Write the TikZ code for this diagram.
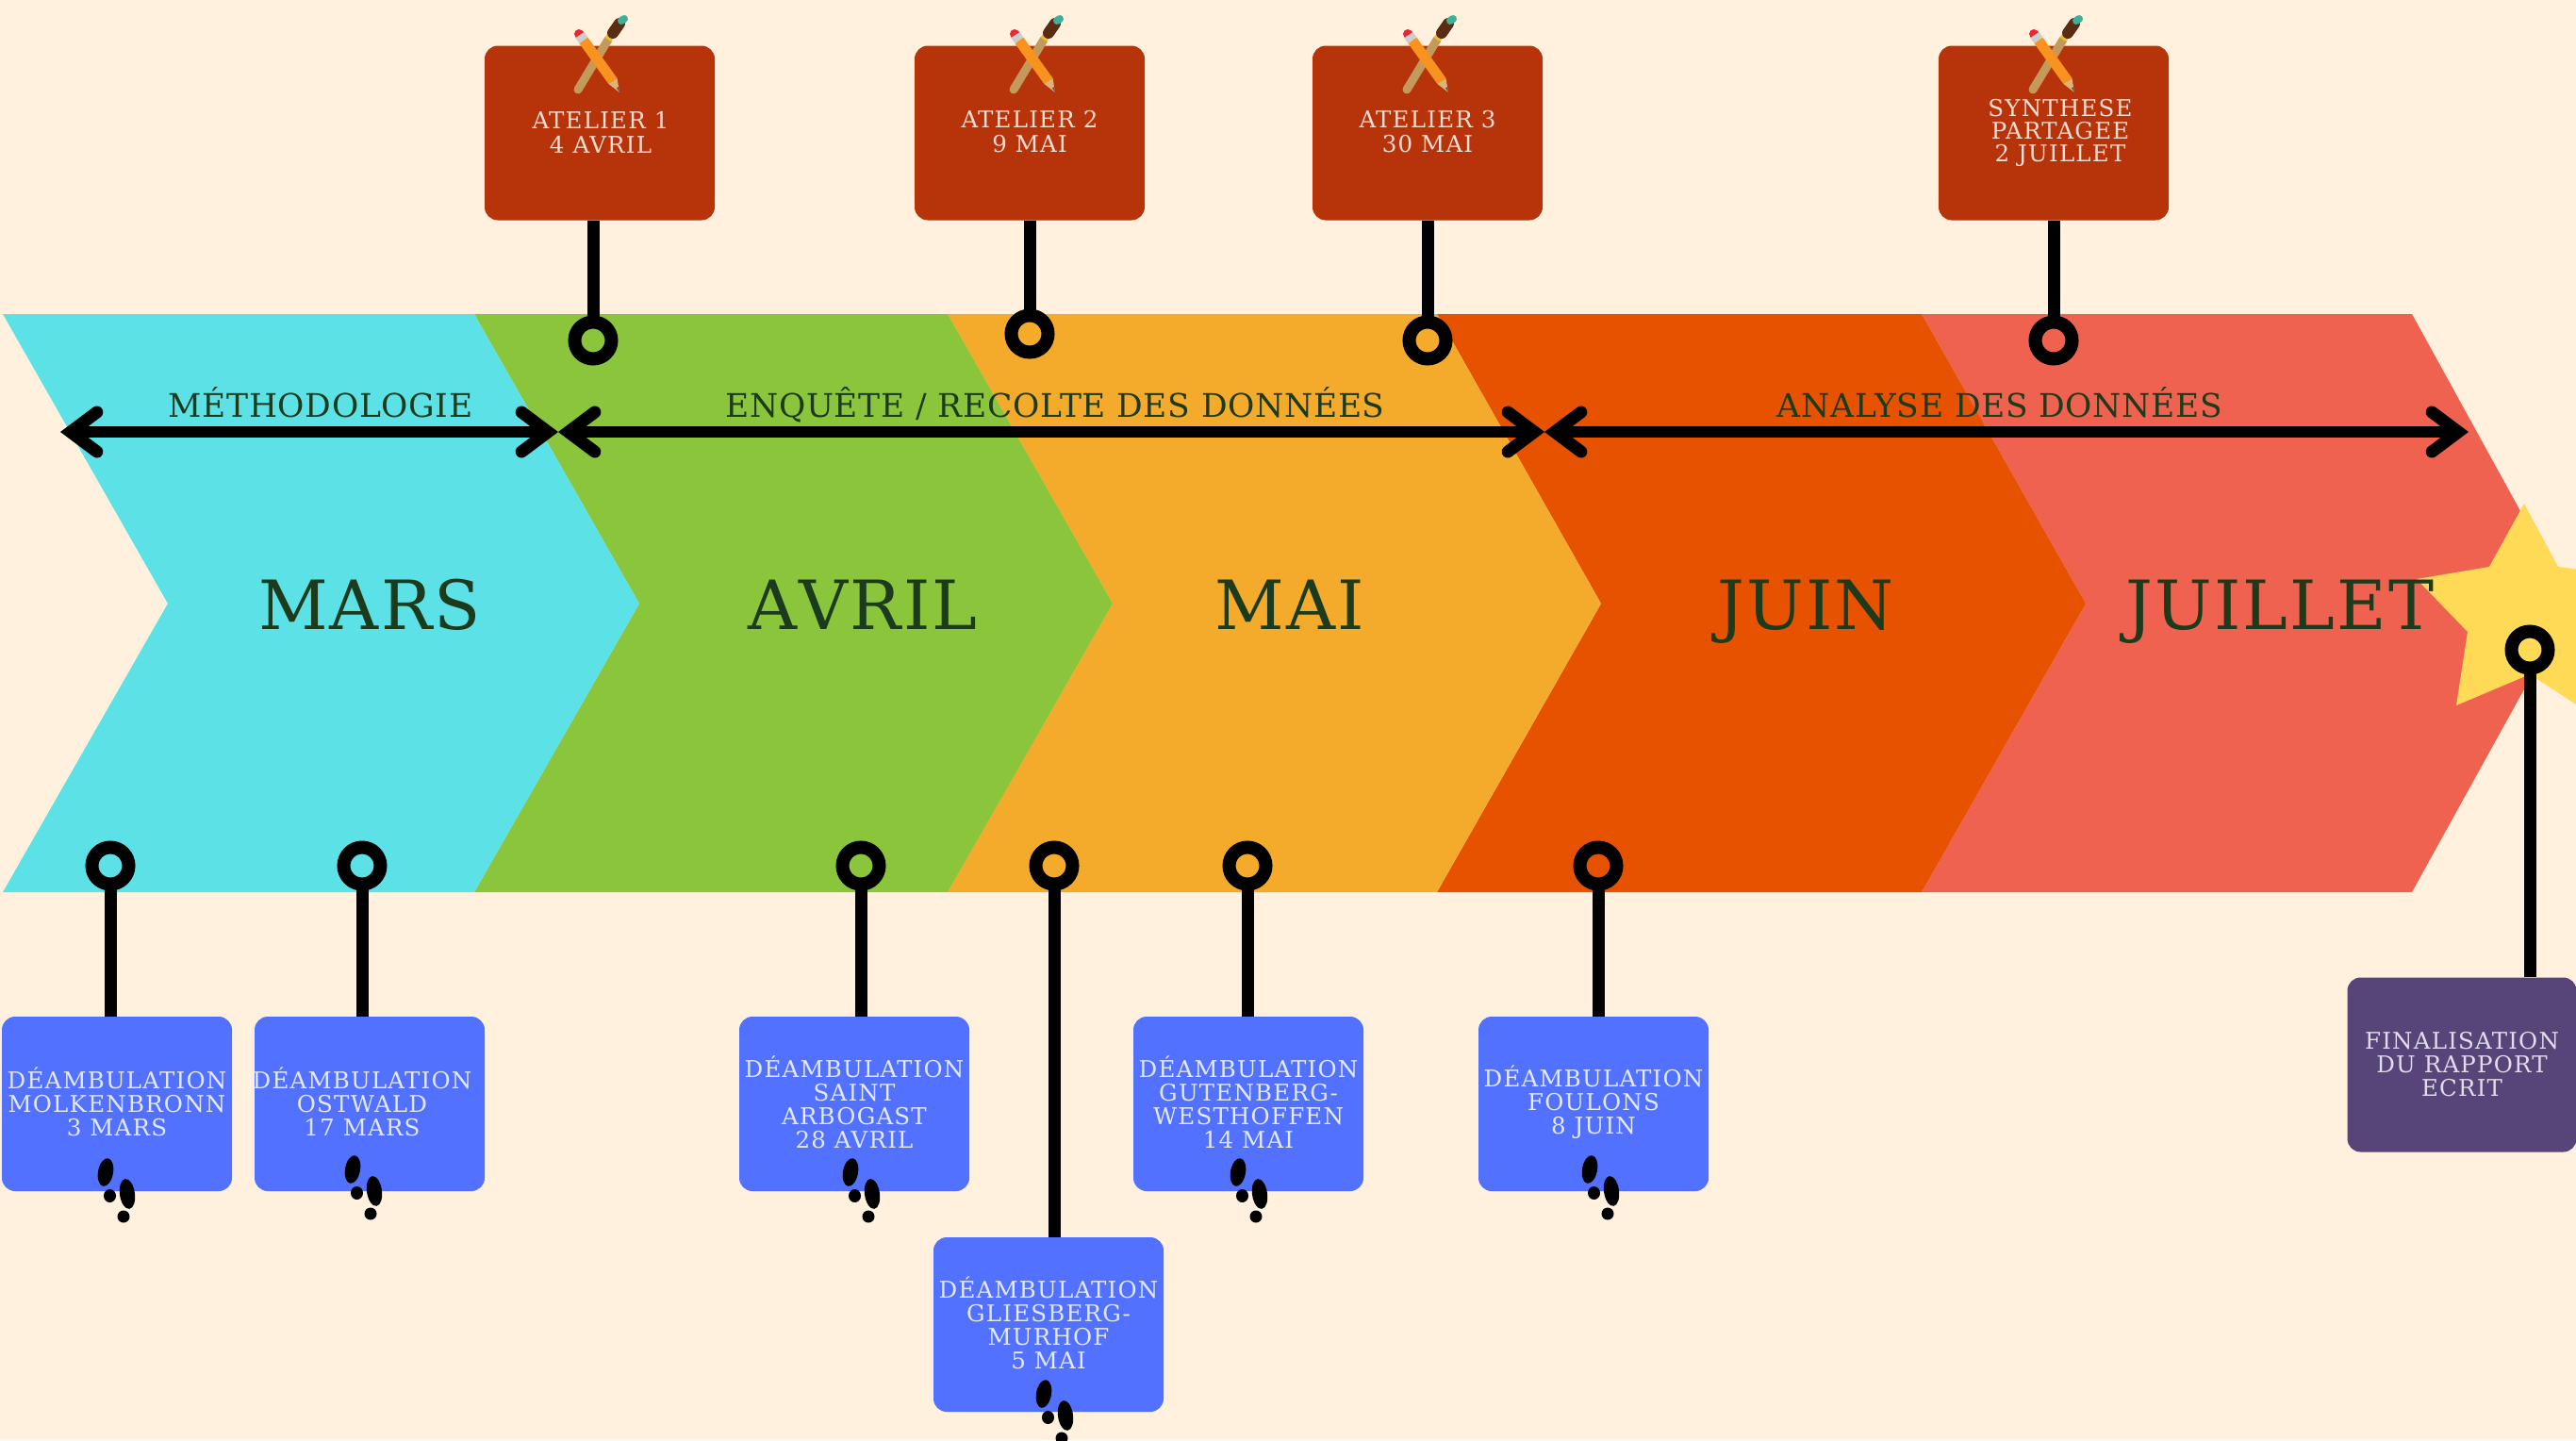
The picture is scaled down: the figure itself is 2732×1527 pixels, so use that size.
\documentclass[tikz,border=0pt]{standalone}
\usepackage{fontspec}
\usetikzlibrary{arrows.meta}
\newfontfamily\slabbox{DejaVu Serif}[LetterSpace=5]
\newfontfamily\slabphase{DejaVu Serif}[LetterSpace=2]
\newfontfamily\slabmonth{DejaVu Serif}[LetterSpace=3,Kerning=Off]
\definecolor{bgc}{HTML}{FFF1DE}
\definecolor{marsc}{HTML}{5CE1E6}
\definecolor{avrilc}{HTML}{8AC53B}
\definecolor{maic}{HTML}{F4AB2B}
\definecolor{juinc}{HTML}{E65200}
\definecolor{juilc}{HTML}{F06250}
\definecolor{starc}{HTML}{FFDA57}
\definecolor{inkc}{HTML}{1C3A1C}
\definecolor{redc}{HTML}{B7340B}
\definecolor{bluec}{HTML}{5271FF}
\definecolor{purc}{HTML}{574478}
\definecolor{redtxt}{HTML}{F7DDD2}
\definecolor{bluetxt}{HTML}{E3E8FF}
\definecolor{purtxt}{HTML}{E0DCEB}
\tikzset{
  x=1pt,y=-1pt,
  boxbase/.style={rounded corners=14pt,minimum width=244pt,minimum height=185pt,inner sep=0pt},
  redbox/.style={boxbase,fill=redc},
  bluebox/.style={boxbase,fill=bluec},
  purbox/.style={boxbase,fill=purc},
  boxtext/.style={align=center,inner sep=0pt,font=\slabbox\fontsize{24.5}{25}\selectfont},
  bluetext/.style={boxtext,text=bluetxt},
  redtext/.style={boxtext,text=redtxt,font=\slabbox\fontsize{24.5}{24}\selectfont},
  ateliertext/.style={boxtext,text=redtxt,font=\slabbox\fontsize{24.5}{26}\selectfont},
  purtext/.style={boxtext,text=purtxt},
  ring/.style={circle,draw=black,line width=14pt,minimum size=39pt,inner sep=0pt,outer sep=0pt},
  stem/.style={draw=black,line width=13pt},
  span/.style={draw=black,line width=12pt,{Straight Barb[length=28pt,width=42pt,line width=13pt,line cap=round,line join=miter]}-{Straight Barb[length=28pt,width=42pt,line width=13pt,line cap=round,line join=miter]}},
  month/.style={anchor=base,text=inkc,inner sep=0pt,font=\slabmonth\fontsize{72}{72}\selectfont},
  phase/.style={anchor=base,text=inkc,inner sep=0pt,font=\slabphase\fontsize{34.5}{35}\selectfont},
  feet/.pic={
    \fill[black] (0,0) ellipse [x radius=8pt,y radius=15pt,rotate=-10];
    \fill[black] (4.5,25) ellipse [x radius=6.5pt,y radius=7pt];
    \fill[black] (23,23) ellipse [x radius=8pt,y radius=16pt,rotate=8];
    \fill[black] (19,47) ellipse [x radius=6.5pt,y radius=6.5pt];
  },
  tools/.pic={
    \draw[line width=9pt,color={rgb,255:red,196;green,154;blue,90},line cap=round] (100,47) -- (132,-6);
    \draw[line width=8pt,color={rgb,255:red,240;green,190;blue,50}] (132,-6) -- (136,-12);
    \draw[line width=12pt,color={rgb,255:red,90;green,44;blue,18},line cap=round] (137,-13) -- (144,-23);
    \draw[line width=8pt,color={rgb,255:red,63;green,176;blue,154},line cap=round] (146,-26) -- (149,-28);
    \draw[line width=10pt,color={rgb,255:red,232;green,40;blue,50},line cap=round] (101,-12) -- (102,-11);
    \draw[line width=11pt,color={rgb,255:red,205;green,205;blue,205}] (102,-11) -- (106,-5);
    \draw[line width=11pt,color={rgb,255:red,247;green,147;blue,30}] (106,-5) -- (137,38);
    \fill[color={rgb,255:red,222;green,178;blue,120}] (132.5,41) -- (141.5,35) -- (144,50) -- cycle;
    \fill[color={rgb,255:red,90;green,90;blue,90}] (141,45.5) -- (143,44) -- (144,50) -- cycle;
  }
}
\begin{document}
\begin{tikzpicture}
\useasboundingbox (0,0) rectangle (2732,1527);
\fill[bgc] (0,0) rectangle (2732,1527);
\begin{scope}
\clip (0,0) rectangle (2732,1527);
% chevrons
\fill[juilc] (2038,333) -- (2558,333) -- (2683,560) -- (2683,720) -- (2558,946) -- (2038,946) -- (2212,640) -- cycle;
\fill[juinc] (1524,333) -- (2038,333) -- (2212,640) -- (2038,946) -- (1524,946) -- (1698,640) -- cycle;
\fill[maic] (1005,333) -- (1524,333) -- (1698,640) -- (1524,946) -- (1005,946) -- (1180,640) -- cycle;
\fill[avrilc] (503,333) -- (1005,333) -- (1180,640) -- (1005,946) -- (503,946) -- (678,640) -- cycle;
\fill[marsc] (3,333) -- (503,333) -- (678,640) -- (503,946) -- (3,946) -- (178,640) -- cycle;
% star
\fill[starc] (2677,534) -- (2713,601) -- (2800,612) -- (2745,670) -- (2760,765) -- (2683,715) -- (2605,748) -- (2617,670) -- (2563,614) -- (2640,601) -- cycle;
% months
\node[month] (mars) at (392,667) {MARS};
\node[month] (avril) at (915,667) {AVRIL};
\node[month] (mai) at (1368,667) {MAI};
\node[month] (juin) at (1915,667) {JUIN};
\node[month] (juillet) at (2418,667) {JUILLET};
% phases
\node[phase] (p1) at (340,442) {MÉTHODOLOGIE};
\node[phase] (p2) at (1119,442) {ENQUÊTE / RECOLTE DES DONNÉES};
\node[phase] (p3) at (2121,442) {ANALYSE DES DONNÉES};
\coordinate (a0) at (64,458);
\coordinate (a1) at (592,458);
\coordinate (a2) at (1638,458);
\coordinate (a3) at (2618,458);
\draw[span] (a1) -- (a0);
\draw[span] (a1) -- (a2);
\draw[span] (a2) -- (a3);
% top rings and boxes
\node[ring] (r1) at (629,361) {};
\node[ring] (r2) at (1092,354) {};
\node[ring] (r3) at (1514,361) {};
\node[ring] (r4) at (2178,361) {};
\node[redbox,label={[ateliertext,yshift=1pt,xshift=1pt]center:ATELIER 1\\4 AVRIL}] (t1) at (636,141) {};
\node[redbox,label={[ateliertext,yshift=1pt]center:ATELIER 2\\9 MAI}] (t2) at (1092,141) {};
\node[redbox,label={[ateliertext,yshift=1pt]center:ATELIER 3\\30 MAI}] (t3) at (1514,141) {};
\node[redbox,label={[redtext,xshift=7pt]center:SYNTHESE\\PARTAGEE\\2 JUILLET}] (t4) at (2178,141) {};
\draw[stem] (r1) -- (r1 |- t1.south);
\draw[stem] (r2) -- (r2 |- t2.south);
\draw[stem] (r3) -- (r3 |- t3.south);
\draw[stem] (r4) -- (r4 |- t4.south);
\pic at (513,48) {tools};
\pic at (975,48) {tools};
\pic at (1392,48) {tools};
\pic at (2056,48) {tools};
% bottom rings and boxes
\node[ring] (s1) at (117,918) {};
\node[ring] (s2) at (384,918) {};
\node[ring] (s3) at (913,918) {};
\node[ring] (s4) at (1118,918) {};
\node[ring] (s5) at (1323,918) {};
\node[ring] (s6) at (1695,918) {};
\node[ring] (s7) at (2683,689) {};
\node[bluebox,label={[bluetext,yshift=2pt]center:DÉAMBULATION\\MOLKENBRONN\\3 MARS}] (b1) at (124,1170.5) {};
\node[bluebox,label={[bluetext,xshift=-8pt,yshift=2pt]center:DÉAMBULATION\\OSTWALD\\17 MARS}] (b2) at (392,1170.5) {};
\node[bluebox,label={[bluetext,yshift=2pt]center:DÉAMBULATION\\SAINT\\ARBOGAST\\28 AVRIL}] (b3) at (906,1170.5) {};
\node[bluebox,label={[bluetext,yshift=2pt]center:DÉAMBULATION\\GLIESBERG-\\MURHOF\\5 MAI}] (b4) at (1112,1404.5) {};
\node[bluebox,label={[bluetext,yshift=2pt]center:DÉAMBULATION\\GUTENBERG-\\WESTHOFFEN\\14 MAI}] (b5) at (1324,1170.5) {};
\node[bluebox,label={[bluetext,yshift=2pt]center:DÉAMBULATION\\FOULONS\\8 JUIN}] (b6) at (1690,1170.5) {};
\node[purbox,minimum width=243pt,label={[purtext]center:FINALISATION\\DU RAPPORT\\ECRIT}] (b7) at (2611,1129) {};
\draw[stem] (s1) -- (s1 |- b1.north);
\draw[stem] (s2) -- (s2 |- b2.north);
\draw[stem] (s3) -- (s3 |- b3.north);
\draw[stem] (s4) -- (s4 |- b4.north);
\draw[stem] (s5) -- (s5 |- b5.north);
\draw[stem] (s6) -- (s6 |- b6.north);
\draw[stem] (s7) -- (s7 |- b7.north);
\pic at (112,1243) {feet};
\pic at (374,1240) {feet};
\pic at (902,1243) {feet};
\pic at (1107,1478) {feet};
\pic at (1313,1243) {feet};
\pic at (1686,1240) {feet};
\end{scope}
\end{tikzpicture}
\end{document}
